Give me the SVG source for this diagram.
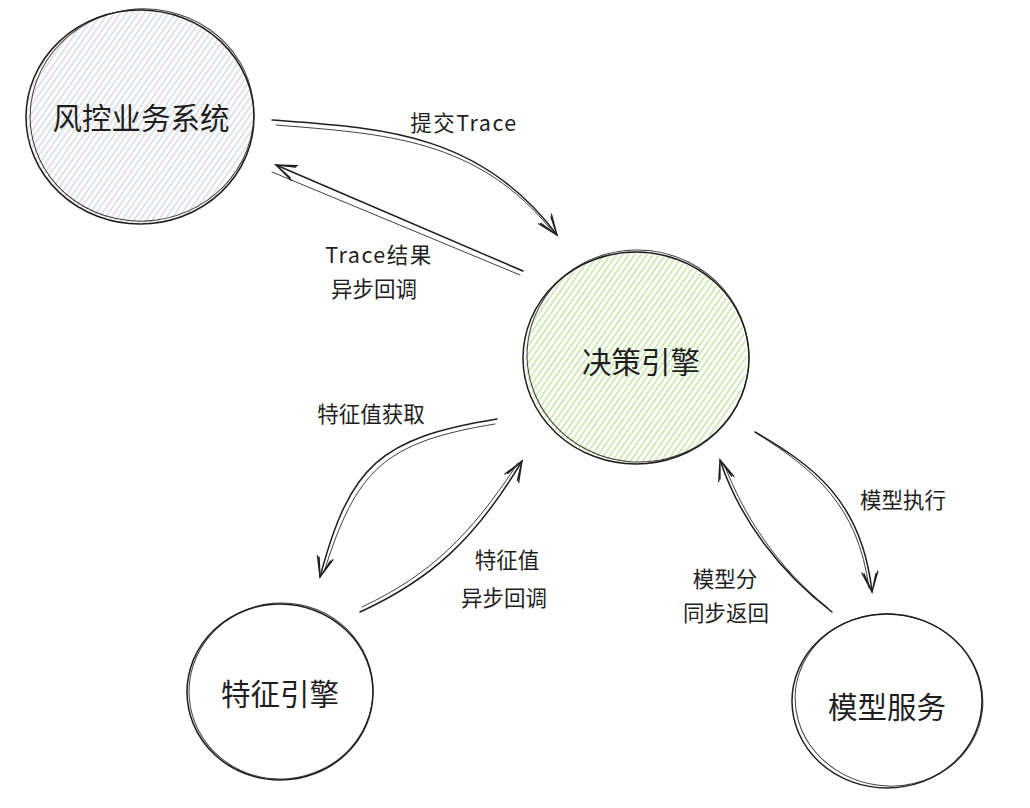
<svg xmlns="http://www.w3.org/2000/svg" width="1030" height="808" viewBox="0 0 1030 808">
<defs>
<pattern id="hatchGrey" width="5" height="5" patternUnits="userSpaceOnUse" patternTransform="rotate(35)">
<line x1="1" y1="0" x2="1" y2="5" stroke="#c4cad1" stroke-width="1.1"/>
</pattern>
<pattern id="hatchGreen" width="5" height="5" patternUnits="userSpaceOnUse" patternTransform="rotate(35)">
<line x1="1" y1="0" x2="1" y2="5" stroke="#a9da7e" stroke-width="1.1"/>
</pattern>
<marker id="arr" viewBox="0 0 24 24" refX="22" refY="12" markerWidth="24" markerHeight="24" markerUnits="userSpaceOnUse" orient="auto">
<path d="M2 4 L22 12 L2 20 M4 6 L22 12 L3 18" fill="none" stroke="#1e1e1e" stroke-width="1.3" stroke-linecap="round"/>
</marker>
</defs>
<style>
.sk{fill:none;stroke:#1e1e1e;stroke-width:1.5;stroke-linecap:round}
.sk2{fill:none;stroke:#1e1e1e;stroke-width:1;stroke-linecap:round;opacity:0.85}
.node{font-family:"Noto Sans CJK SC","Noto Sans",sans-serif;font-size:29.5px;fill:#1e1e1e;text-anchor:middle;dominant-baseline:central}
.lbl{font-family:"Noto Sans CJK SC","Noto Sans",sans-serif;font-size:21.5px;fill:#1e1e1e;text-anchor:middle;dominant-baseline:central}
.lat{letter-spacing:1.5px}
</style>
<rect width="1030" height="808" fill="#ffffff"/>

<g id="node-risk">
<ellipse cx="140" cy="117" rx="113" ry="106" fill="url(#hatchGrey)"/>
<ellipse cx="140" cy="117" rx="114" ry="107" class="sk"/>
<ellipse cx="142" cy="115" rx="112" ry="106" class="sk2" transform="rotate(-8 142 115)"/>
<text x="141" y="116" class="node">风控业务系统</text>
</g>

<g id="node-decision">
<ellipse cx="636" cy="358" rx="111" ry="105" fill="url(#hatchGreen)"/>
<ellipse cx="636" cy="358" rx="113" ry="106" class="sk"/>
<ellipse cx="638" cy="356" rx="111" ry="106" class="sk2" transform="rotate(6 638 356)"/>
<text x="641" y="360" class="node">决策引擎</text>
</g>

<g id="node-feature">
<ellipse cx="280" cy="692" rx="93" ry="88" class="sk"/>
<ellipse cx="281" cy="691" rx="92" ry="88" class="sk2" transform="rotate(-5 281 691)"/>
<text x="280" y="692" class="node">特征引擎</text>
</g>

<g id="node-model">
<ellipse cx="887" cy="701" rx="95" ry="87" class="sk"/>
<ellipse cx="889" cy="700" rx="94" ry="86" class="sk2" transform="rotate(7 889 700)"/>
<text x="887" y="705" class="node">模型服务</text>
</g>

<g id="connectors">
<path d="M272 120 C 380 128, 480 132, 557 235" class="sk" marker-end="url(#arr)"/>
<path d="M276 125 C 385 134, 478 138, 553 232" class="sk2"/>
<path d="M523 271 L 276 165" class="sk" marker-end="url(#arr)"/>
<path d="M520 275 L 272 172" class="sk2"/>
<path d="M497 419 C 380 438, 350 465, 320 577" class="sk" marker-end="url(#arr)"/>
<path d="M495 424 C 384 442, 356 470, 324 572" class="sk2"/>
<path d="M360 612 C 430 580, 475 540, 522 461" class="sk" marker-end="url(#arr)"/>
<path d="M362 607 C 430 575, 470 536, 518 463" class="sk2"/>
<path d="M755 432 C 812 465, 862 500, 872 592" class="sk" marker-end="url(#arr)"/>
<path d="M758 434 C 814 470, 858 505, 869 588" class="sk2"/>
<path d="M832 612 C 780 572, 740 520, 720 460" class="sk" marker-end="url(#arr)"/>
<path d="M828 608 C 776 566, 744 516, 724 464" class="sk2"/>
</g>

<g id="labels">
<text x="464" y="121" class="lbl lat">提交Trace</text>
<text x="379" y="253" class="lbl lat">Trace结果</text>
<text x="374" y="287" class="lbl">异步回调</text>
<text x="371" y="412" class="lbl">特征值获取</text>
<text x="507" y="558" class="lbl">特征值</text>
<text x="504" y="596" class="lbl">异步回调</text>
<text x="903" y="498" class="lbl">模型执行</text>
<text x="725" y="577" class="lbl">模型分</text>
<text x="726" y="611" class="lbl">同步返回</text>
</g>
</svg>
